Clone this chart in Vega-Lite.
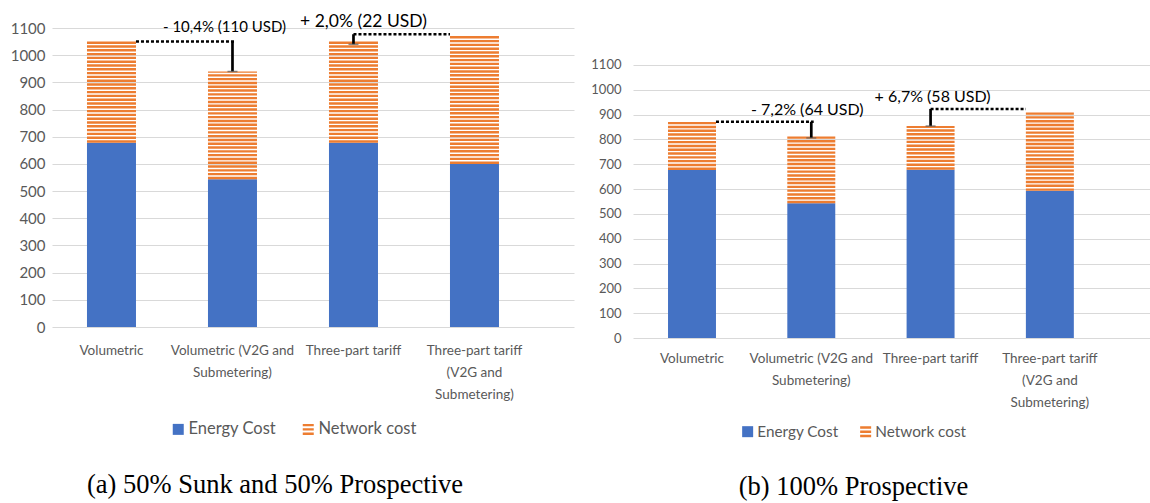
{
  "$schema": "https://vega.github.io/schema/vega-lite/v6.json",
  "background": "white",
  "padding": {"left": 10, "top": 11, "right": 0, "bottom": 0},
  "bounds": "flush",
  "spacing": 59,
  "resolve": {"scale": {"color": "independent"}, "legend": {"color": "independent"}},
  "config": {
    "view": {"stroke": null},
    "font": "Lato",
    "axisX": {"title": null, "domain": false, "ticks": false, "grid": false, "labelAngle": 0, "labelFont": "Lato", "labelFontSize": 13.5, "labelColor": "#595959", "labelLineHeight": 22, "labelLimit": 0, "labelBaseline": "top",
      "labelExpr": "datum.value == 'Volumetric (V2G and Submetering)' ? ['Volumetric (V2G and', 'Submetering)'] : datum.value == 'Three-part tariff (V2G and Submetering)' ? ['Three-part tariff', '(V2G and', 'Submetering)'] : datum.label"},
    "axisY": {"title": null, "domain": false, "ticks": false, "grid": true, "gridColor": "#d9d9d9", "gridWidth": 1.2, "labelFont": "Lato", "labelColor": "#595959", "format": "d"},
    "legend": {"title": null, "orient": "none", "direction": "horizontal", "symbolType": "square", "symbolSize": 121, "symbolStrokeWidth": 0, "labelFont": "Lato", "labelFontSize": 16.5, "labelColor": "#595959", "labelOffset": 2, "columnPadding": 22, "padding": 0},
    "title": {"font": "Liberation Serif", "fontSize": 26.5, "fontWeight": "normal", "color": "#000000", "orient": "bottom", "anchor": "middle"}
  },
  "datasets": {
    "a": [
      {"cat": "Volumetric", "energy": 678, "total": 1050},
      {"cat": "Volumetric (V2G and Submetering)", "energy": 544, "total": 940},
      {"cat": "Three-part tariff", "energy": 678, "total": 1050},
      {"cat": "Three-part tariff (V2G and Submetering)", "energy": 600, "total": 1071}
    ],
    "b": [
      {"cat": "Volumetric", "energy": 677, "total": 871},
      {"cat": "Volumetric (V2G and Submetering)", "energy": 543, "total": 812},
      {"cat": "Three-part tariff", "energy": 678, "total": 854},
      {"cat": "Three-part tariff (V2G and Submetering)", "energy": 593, "total": 913}
    ]
  },
  "hconcat": [
    {
      "width": 522,
      "height": 299,
      "title": {"text": "(a) 50% Sunk and 50% Prospective", "dx": -38, "offset": 34},
      "layer": [
        {
          "data": {"name": "a"},
          "mark": {"type": "bar", "color": "#4472C4"},
          "encoding": {
            "x": {"field": "cat", "type": "nominal", "sort": null,
              "scale": {"domain": ["Volumetric", "Volumetric (V2G and Submetering)", "Three-part tariff", "Three-part tariff (V2G and Submetering)"], "paddingInner": 0.595, "paddingOuter": 0.4545, "align": 0.318},
              "axis": {"labelPadding": 16}},
            "y": {"field": "energy", "type": "quantitative", "scale": {"domain": [0, 1100], "nice": false}, "axis": {"labelFontSize": 15, "labelPadding": 7, "values": [0, 100, 200, 300, 400, 500, 600, 700, 800, 900, 1000, 1100]}},
            "color": {"datum": "Energy Cost", "type": "nominal",
              "scale": {"domain": ["Energy Cost", "Network cost"], "range": ["#4472C4", "#ED7D31"]},
              "legend": {"legendX": 118, "legendY": 393, "columnPadding": 23,
                "encode": {"symbols": {"update": {"shape": [{"test": "datum.value === 'Network cost'", "value": "M-1,-1H1V-0.55H-1Z M-1,-0.22H1V0.22H-1Z M-1,0.55H1V1H-1Z"}, {"value": "square"}]}}}}}
          }
        },
        {
          "data": {"name": "a"},
          "mark": {"type": "rule", "strokeWidth": 49, "strokeDash": [2.4, 1.4], "color": "#ED7D31", "strokeCap": "butt"},
          "encoding": {
            "x": {"field": "cat", "type": "nominal", "sort": null},
            "y": {"field": "energy", "type": "quantitative", "axis": {"labelFontSize": 15, "labelPadding": 7, "values": [0, 100, 200, 300, 400, 500, 600, 700, 800, 900, 1000, 1100]}},
            "y2": {"field": "total"}
          }
        },
        {
          "data": {"values": [{"from": "Volumetric", "to": "Volumetric (V2G and Submetering)", "level": 1050, "low": 940, "ly": 1105, "label": "- 10,4% (110 USD)"}]},
          "layer": [
            {"mark": {"type": "rule", "strokeWidth": 2.5, "strokeDash": [3, 2], "color": "#000000"},
             "encoding": {"x": {"field": "from", "type": "nominal", "bandPosition": 1}, "x2": {"field": "to", "bandPosition": 0.55}, "y": {"field": "level", "type": "quantitative", "axis": {"labelFontSize": 15, "labelPadding": 7, "values": [0, 100, 200, 300, 400, 500, 600, 700, 800, 900, 1000, 1100]}}}},
            {"mark": {"type": "rule", "strokeWidth": 2.7, "color": "#000000"},
             "encoding": {"x": {"field": "to", "type": "nominal"}, "y": {"field": "level", "type": "quantitative", "axis": {"labelFontSize": 15, "labelPadding": 7, "values": [0, 100, 200, 300, 400, 500, 600, 700, 800, 900, 1000, 1100]}}, "y2": {"field": "low"}}},
            {"mark": {"type": "tick", "thickness": 1.5, "size": 10, "color": "#595959"},
             "encoding": {"x": {"field": "to", "type": "nominal"}, "y": {"field": "low", "type": "quantitative", "axis": {"labelFontSize": 15, "labelPadding": 7, "values": [0, 100, 200, 300, 400, 500, 600, 700, 800, 900, 1000, 1100]}}}},
            {"mark": {"type": "text", "fontSize": 15, "color": "#000000", "dx": -8, "baseline": "middle"},
             "encoding": {"x": {"field": "to", "type": "nominal"}, "y": {"field": "ly", "type": "quantitative", "axis": {"labelFontSize": 15, "labelPadding": 7, "values": [0, 100, 200, 300, 400, 500, 600, 700, 800, 900, 1000, 1100]}}, "text": {"field": "label"}}}
          ]
        },
        {
          "data": {"values": [{"from": "Three-part tariff", "to": "Three-part tariff (V2G and Submetering)", "level": 1077, "low": 1040, "ly": 1122, "label": "+ 2,0% (22 USD)"}]},
          "layer": [
            {"mark": {"type": "rule", "strokeWidth": 2.5, "strokeDash": [3, 2], "color": "#000000"},
             "encoding": {"x": {"field": "from", "type": "nominal"}, "x2": {"field": "to", "bandPosition": 0}, "y": {"field": "level", "type": "quantitative", "axis": {"labelFontSize": 15, "labelPadding": 7, "values": [0, 100, 200, 300, 400, 500, 600, 700, 800, 900, 1000, 1100]}}}},
            {"mark": {"type": "rule", "strokeWidth": 2.7, "color": "#000000"},
             "encoding": {"x": {"field": "from", "type": "nominal"}, "y": {"field": "level", "type": "quantitative", "axis": {"labelFontSize": 15, "labelPadding": 7, "values": [0, 100, 200, 300, 400, 500, 600, 700, 800, 900, 1000, 1100]}}, "y2": {"field": "low"}}},
            {"mark": {"type": "tick", "thickness": 1.5, "size": 10, "color": "#595959"},
             "encoding": {"x": {"field": "from", "type": "nominal"}, "y": {"field": "low", "type": "quantitative", "axis": {"labelFontSize": 15, "labelPadding": 7, "values": [0, 100, 200, 300, 400, 500, 600, 700, 800, 900, 1000, 1100]}}}},
            {"mark": {"type": "text", "fontSize": 17.5, "color": "#000000", "dx": 10, "baseline": "middle"},
             "encoding": {"x": {"field": "from", "type": "nominal"}, "y": {"field": "ly", "type": "quantitative", "axis": {"labelFontSize": 15, "labelPadding": 7, "values": [0, 100, 200, 300, 400, 500, 600, 700, 800, 900, 1000, 1100]}}, "text": {"field": "label"}}}
          ]
        }
      ]
    },
    {
      "width": 517,
      "height": 310,
      "title": {"text": "(b) 100% Prospective", "dx": -38, "offset": 34},
      "layer": [
        {
          "data": {"name": "b"},
          "mark": {"type": "bar", "color": "#4472C4"},
          "encoding": {
            "x": {"field": "cat", "type": "nominal", "sort": null,
              "scale": {"domain": ["Volumetric", "Volumetric (V2G and Submetering)", "Three-part tariff", "Three-part tariff (V2G and Submetering)"], "paddingInner": 0.598, "paddingOuter": 0.466, "align": 0.315},
              "axis": {"labelPadding": 13}},
            "y": {"field": "energy", "type": "quantitative", "scale": {"domain": [0, 1249], "nice": false}, "axis": {"labelFontSize": 13, "labelPadding": 12, "values": [0, 100, 200, 300, 400, 500, 600, 700, 800, 900, 1000, 1100]}},
            "color": {"datum": "Energy Cost", "type": "nominal",
              "scale": {"domain": ["Energy Cost", "Network cost"], "range": ["#4472C4", "#ED7D31"]},
              "legend": {"legendX": 107, "legendY": 396, "labelFontSize": 15.3, "columnPadding": 19,
                "encode": {"symbols": {"update": {"shape": [{"test": "datum.value === 'Network cost'", "value": "M-1,-1H1V-0.55H-1Z M-1,-0.22H1V0.22H-1Z M-1,0.55H1V1H-1Z"}, {"value": "square"}]}}}}}
          }
        },
        {
          "data": {"name": "b"},
          "mark": {"type": "rule", "strokeWidth": 48, "strokeDash": [2.4, 1.4], "color": "#ED7D31", "strokeCap": "butt"},
          "encoding": {
            "x": {"field": "cat", "type": "nominal", "sort": null},
            "y": {"field": "energy", "type": "quantitative", "axis": {"labelFontSize": 13, "labelPadding": 12, "values": [0, 100, 200, 300, 400, 500, 600, 700, 800, 900, 1000, 1100]}},
            "y2": {"field": "total"}
          }
        },
        {
          "data": {"values": [{"from": "Volumetric", "to": "Volumetric (V2G and Submetering)", "level": 871, "low": 806, "ly": 919, "label": "- 7,2% (64 USD)"}]},
          "layer": [
            {"mark": {"type": "rule", "strokeWidth": 2.5, "strokeDash": [3, 2], "color": "#000000"},
             "encoding": {"x": {"field": "from", "type": "nominal", "bandPosition": 1}, "x2": {"field": "to", "bandPosition": 0.55}, "y": {"field": "level", "type": "quantitative", "axis": {"labelFontSize": 13, "labelPadding": 12, "values": [0, 100, 200, 300, 400, 500, 600, 700, 800, 900, 1000, 1100]}}}},
            {"mark": {"type": "rule", "strokeWidth": 2.7, "color": "#000000"},
             "encoding": {"x": {"field": "to", "type": "nominal"}, "y": {"field": "level", "type": "quantitative", "axis": {"labelFontSize": 13, "labelPadding": 12, "values": [0, 100, 200, 300, 400, 500, 600, 700, 800, 900, 1000, 1100]}}, "y2": {"field": "low"}}},
            {"mark": {"type": "tick", "thickness": 1.5, "size": 10, "color": "#595959"},
             "encoding": {"x": {"field": "to", "type": "nominal"}, "y": {"field": "low", "type": "quantitative", "axis": {"labelFontSize": 13, "labelPadding": 12, "values": [0, 100, 200, 300, 400, 500, 600, 700, 800, 900, 1000, 1100]}}}},
            {"mark": {"type": "text", "fontSize": 16, "color": "#000000", "dx": -4, "baseline": "middle"},
             "encoding": {"x": {"field": "to", "type": "nominal"}, "y": {"field": "ly", "type": "quantitative", "axis": {"labelFontSize": 13, "labelPadding": 12, "values": [0, 100, 200, 300, 400, 500, 600, 700, 800, 900, 1000, 1100]}}, "text": {"field": "label"}}}
          ]
        },
        {
          "data": {"values": [{"from": "Three-part tariff", "to": "Three-part tariff (V2G and Submetering)", "level": 923, "low": 854, "ly": 971, "label": "+ 6,7% (58 USD)"}]},
          "layer": [
            {"mark": {"type": "rule", "strokeWidth": 2.5, "strokeDash": [3, 2], "color": "#000000"},
             "encoding": {"x": {"field": "from", "type": "nominal"}, "x2": {"field": "to", "bandPosition": 0}, "y": {"field": "level", "type": "quantitative", "axis": {"labelFontSize": 13, "labelPadding": 12, "values": [0, 100, 200, 300, 400, 500, 600, 700, 800, 900, 1000, 1100]}}}},
            {"mark": {"type": "rule", "strokeWidth": 2.7, "color": "#000000"},
             "encoding": {"x": {"field": "from", "type": "nominal"}, "y": {"field": "level", "type": "quantitative", "axis": {"labelFontSize": 13, "labelPadding": 12, "values": [0, 100, 200, 300, 400, 500, 600, 700, 800, 900, 1000, 1100]}}, "y2": {"field": "low"}}},
            {"mark": {"type": "tick", "thickness": 1.5, "size": 10, "color": "#595959"},
             "encoding": {"x": {"field": "from", "type": "nominal"}, "y": {"field": "low", "type": "quantitative", "axis": {"labelFontSize": 13, "labelPadding": 12, "values": [0, 100, 200, 300, 400, 500, 600, 700, 800, 900, 1000, 1100]}}}},
            {"mark": {"type": "text", "fontSize": 16, "color": "#000000", "dx": 2, "baseline": "middle"},
             "encoding": {"x": {"field": "from", "type": "nominal"}, "y": {"field": "ly", "type": "quantitative", "axis": {"labelFontSize": 13, "labelPadding": 12, "values": [0, 100, 200, 300, 400, 500, 600, 700, 800, 900, 1000, 1100]}}, "text": {"field": "label"}}}
          ]
        }
      ]
    }
  ]
}
